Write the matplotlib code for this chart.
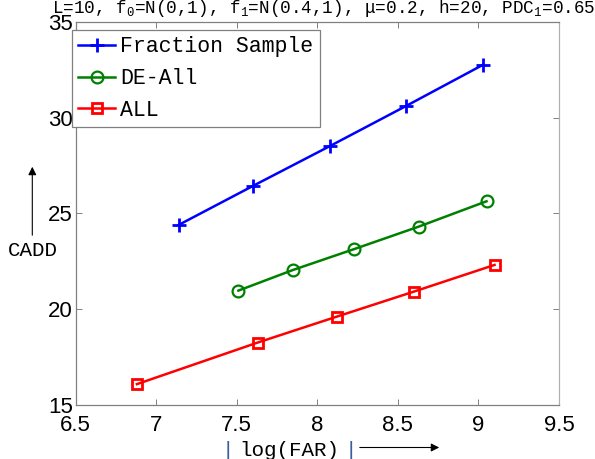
import numpy as np
import matplotlib
matplotlib.use('Agg')
import matplotlib.pyplot as plt

# values
far_frac = [7.14, 7.60, 8.08, 8.55, 9.03]
cadd_frac = [24.40, 26.43, 28.52, 30.60, 32.76]

far_de = [7.51, 7.85, 8.23, 8.63, 9.05]
cadd_de = [20.97, 22.05, 23.14, 24.31, 25.63]

far_all = [6.88, 7.63, 8.12, 8.60, 9.10]
cadd_all = [16.09, 18.26, 19.61, 20.92, 22.31]

labels = ['Fraction Sample', 'DE-All', 'ALL']
xticks = [6.5, 7, 7.5, 8, 8.5, 9, 9.5]
yticks = [15, 20, 25, 30, 35]

plt.rcParams['mathtext.fontset'] = 'custom'
plt.rcParams['mathtext.rm'] = 'Liberation Mono'
plt.rcParams['mathtext.it'] = 'Liberation Mono'

mono = 'Liberation Mono'
sans = 'Liberation Sans'

fig = plt.figure(figsize=(5.95, 4.59), dpi=100)
ax = fig.add_axes([0.1272, 0.1176, 0.8123, 0.8351])

ax.plot(far_frac, cadd_frac, color=(0, 0, 1), lw=1.8, marker='+', ms=9.5, mew=2, label=labels[0])
ax.plot(far_de, cadd_de, color=(0, 0.5, 0), lw=1.8, marker='o', ms=8.5, mew=1.6,
        mfc='none', label=labels[1])
ax.plot(far_all, cadd_all, color=(1, 0, 0), lw=1.8, marker='s', ms=7.5, mew=2,
        mfc='none', label=labels[2])

ax.set_xlim(6.5, 9.5)
ax.set_ylim(15, 35)
ax.set_xticks(xticks)
ax.set_xticklabels(['6.5', '7', '7.5', '8', '8.5', '9', '9.5'], fontfamily=sans, fontsize=16)
ax.set_yticks(yticks)
ax.set_yticklabels([str(v) for v in yticks], fontfamily=sans, fontsize=16)
ax.tick_params(direction='in', length=4, width=0.7, color='#808080', top=True, right=True)
ax.tick_params(axis='x', pad=7)
ax.tick_params(axis='y', pad=2)
for s in ax.spines.values():
    s.set_color('#808080')
    s.set_linewidth(0.9)
ax.spines['right'].set_color('#b0b0b0')

leg = ax.legend(loc='upper left', bbox_to_anchor=(72/595, 1-30/459), bbox_transform=fig.transFigure,
                borderaxespad=0, prop={'family': mono, 'size': 15.5}, fancybox=False,
                framealpha=1, edgecolor='#808080', handlelength=1.7, handletextpad=0.25,
                labelspacing=0.5, borderpad=0.3)
leg.get_frame().set_linewidth(0.9)

# title along the top edge (partly cut off, like the original)
fig.text(52/595, 1-13/459,
         r'L=10, f$_0$=N(0,1), f$_1$=N(0.4,1), $\mu$=0.2, h=20, PDC$_1$=0.65',
         family=mono, fontsize=12.7, va='baseline', ha='left')

# x label with arrow
fig.text(228/595, 1-450/459, '|', family=mono, fontsize=15, color='#3a5fa0', va='center', ha='center')
fig.text(239/595, 1-450/459, 'log(FAR)', family=mono, fontsize=15, va='center', ha='left')
fig.text(351/595, 1-450/459, '|', family=mono, fontsize=15, color='#3a5fa0', va='center', ha='center')
fig.add_artist(matplotlib.patches.FancyArrowPatch((357/595, 1-447.5/459), (442/595, 1-447.5/459),
                                                  transform=fig.transFigure, arrowstyle='-|>',
                                                  mutation_scale=12, color='black', lw=0.8))

# y label with arrow
fig.text(33/595, 1-251/459, 'CADD', family=mono, fontsize=15, va='center', ha='center')
fig.add_artist(matplotlib.patches.FancyArrowPatch((32.3/595, 1-238/459), (32.3/595, 1-164/459),
                                                  transform=fig.transFigure, arrowstyle='-|>',
                                                  mutation_scale=12, color='black', lw=0.8))

plt.savefig('out.png', dpi=100)
